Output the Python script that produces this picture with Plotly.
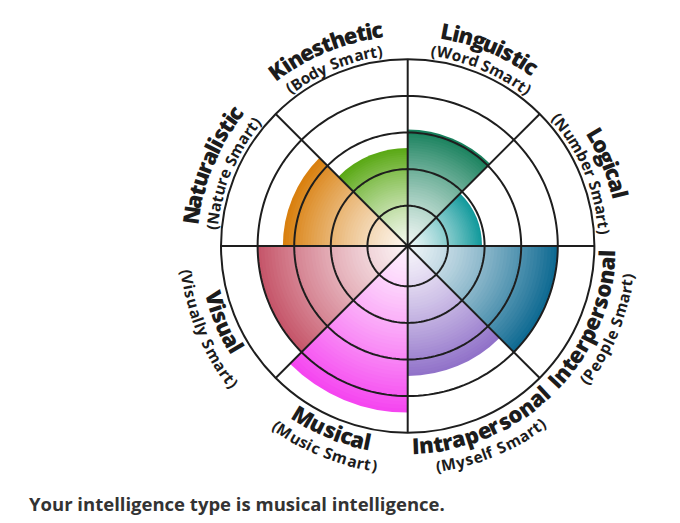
import math
import plotly.graph_objects as go

# ---------------- data ----------------
categories = ["Linguistic", "Logical", "Interpersonal", "Intrapersonal",
              "Musical", "Visual", "Naturalistic", "Kinesthetic"]
subtitles = ["(Word Smart)", "(Number Smart)", "(People Smart)", "(Myself Smart)",
             "(Music Smart)", "(Visually Smart)", "(Nature Smart)", "(Body Smart)"]
scores = [3.18, 2.03, 4.1, 3.55, 4.55, 4.1, 3.41, 2.68]
ring_values = [1.1, 2.1, 3.1, 4.1, 5.1]
colors = ["#17805c", "#139a9c", "#0f6a92", "#9172c9",
          "#f546f0", "#c6566a", "#d9800f", "#5ba916"]
summary = "Your intelligence type is musical intelligence."

# ---------------- geometry / style ----------------
PAGE_OFF = 8  # default body margin of the html page
W, H = 680 - 2 * PAGE_OFF, 523 - 2 * PAGE_OFF
CX, CY, R_OUT = 407.7 - PAGE_OFF, 246.0 - PAGE_OFF, 186.7
SECTOR = 360 / len(categories)
thetas = [SECTOR / 2 + SECTOR * i for i in range(len(categories))]
spokes = [SECTOR * i for i in range(len(categories))]
GRID = "#1e1e1e"
TEXT = "#1c1c1c"


def hex2rgb(h):
    h = h.lstrip("#")
    return tuple(int(h[i:i + 2], 16) for i in (0, 2, 4))


def mix(c, t):
    r, g, b = hex2rgb(c)
    return "rgb(%d,%d,%d)" % (round(255 + (r - 255) * t),
                             round(255 + (g - 255) * t),
                             round(255 + (b - 255) * t))


fig = go.Figure()
N = 45
for k in range(N, 0, -1):
    frac = k / N
    t = 0.07 + 0.93 * frac ** 1.25
    fig.add_trace(go.Barpolar(
        r=[s * frac for s in scores],
        theta=thetas,
        width=[SECTOR] * len(categories),
        marker=dict(color=[mix(c, t) for c in colors], line=dict(width=0)),
        hoverinfo="skip",
        showlegend=False,
    ))

# grid drawn on top of the bars
circle_theta = [i for i in range(0, 361, 2)]
for rv in ring_values[:-1]:
    fig.add_trace(go.Scatterpolar(
        r=[rv] * len(circle_theta), theta=circle_theta, mode="lines",
        line=dict(color=GRID, width=2), hoverinfo="skip", showlegend=False))
for sp in spokes:
    fig.add_trace(go.Scatterpolar(
        r=[0, ring_values[-1]], theta=[sp, sp], mode="lines",
        line=dict(color=GRID, width=2), hoverinfo="skip", showlegend=False))

# ---------------- curved labels ----------------
WID = {
    "a": .589, "b": .617, "c": .509, "d": .617, "e": .589, "f": .37, "g": .547,
    "h": .643, "i": .297, "l": .297, "m": .966, "n": .643, "o": .607, "p": .617,
    "r": .445, "s": .507, "t": .42, "u": .643, "y": .551, "(": .337, ")": .337,
    " ": .26, "I": .34, "L": .526, "K": .635, "N": .777, "V": .62, "M": .915,
    "W": .955, "B": .644, "P": .6, "S": .534,
}

annotations = []


def curved(text, phi_c, radius, fs, spacing, upper, weight):
    widths = [WID.get(ch, .58) * fs + spacing for ch in text]
    total = sum(widths)
    cum = 0.0
    for ch, w in zip(text, widths):
        off = (cum + w / 2 - total / 2) / radius
        cum += w
        if ch == " ":
            continue
        phi = math.radians(phi_c) + (off if upper else -off)
        x = CX + radius * math.sin(phi)
        y = CY - radius * math.cos(phi)
        ang = math.degrees(phi) if upper else math.degrees(phi) - 180
        while ang > 180:
            ang -= 360
        while ang < -180:
            ang += 360
        annotations.append(dict(
            x=x / W, y=1 - y / H, xref="paper", yref="paper",
            text=ch, showarrow=False, textangle=ang,
            xanchor="center", yanchor="middle",
            font=dict(family="Open Sans", size=fs, color=TEXT, weight=weight),
        ))


for name, sub, th in zip(categories, subtitles, thetas):
    upper = math.cos(math.radians(th)) > 0
    if upper:
        curved(name, th, 219, 22, 0.0, True, 800)
        curved(sub, th, 197, 15.5, 0.6, True, 700)
    else:
        curved(name, th, 199, 22, 0.0, False, 800)
        curved(sub, th, 222, 15.5, 0.6, False, 700)

annotations.append(dict(
    x=(27 - PAGE_OFF) / W, y=0, xref="paper", yref="paper", yshift=-3,
    text=summary, showarrow=False,
    xanchor="left", yanchor="bottom",
    font=dict(family="Open Sans", size=18.5, color="#333333", weight=700),
))

fig.update_layout(
    width=W, height=H,
    margin=dict(l=0, r=0, t=0, b=0),
    paper_bgcolor="white",
    polar=dict(
        barmode="overlay",
        domain=dict(x=[(CX - R_OUT) / W, (CX + R_OUT) / W],
                    y=[1 - (CY + R_OUT) / H, 1 - (CY - R_OUT) / H]),
        bgcolor="white",
        radialaxis=dict(range=[0, ring_values[-1]], tickvals=ring_values,
                        showticklabels=False, ticks="", showline=False,
                        showgrid=False),
        angularaxis=dict(rotation=90, direction="clockwise",
                         tickvals=spokes, showgrid=False,
                         showticklabels=False, ticks="", showline=True,
                         linecolor=GRID, linewidth=2, layer="above traces"),
    ),
    annotations=annotations,
)

fig.write_html("out.html")
